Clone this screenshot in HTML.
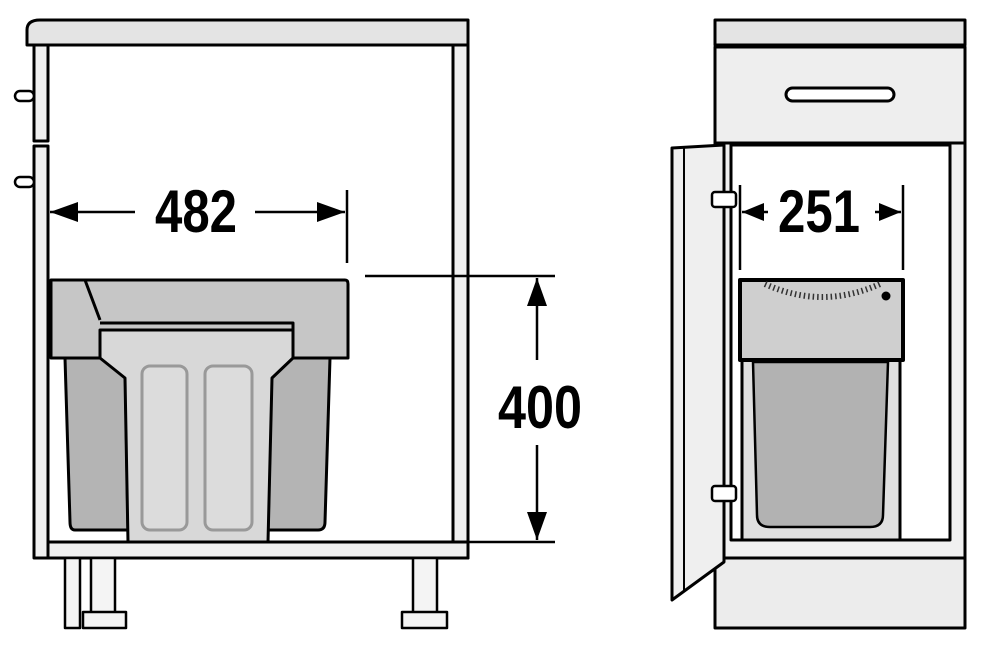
<!DOCTYPE html>
<html><head><meta charset="utf-8"><style>html,body{margin:0;padding:0;background:#fff}svg{display:block}</style></head>
<body>
<svg width="1000" height="654" viewBox="0 0 1000 654" xmlns="http://www.w3.org/2000/svg">
<defs>
<marker id="ah" viewBox="0 0 28 20" refX="28" refY="10" markerWidth="28" markerHeight="20" markerUnits="userSpaceOnUse" orient="auto"><path d="M0,0 L28,10 L0,20 z" fill="#000"/></marker>
<marker id="ah2" viewBox="0 0 22 18" refX="22" refY="9" markerWidth="22" markerHeight="18" markerUnits="userSpaceOnUse" orient="auto"><path d="M0,0 L22,9 L0,18 z" fill="#000"/></marker>
</defs>
<g stroke="#000" stroke-width="3" fill="#fff" stroke-linejoin="round">
<path d="M27,45 L27,30 Q27,20 40,20 L468,20 L468,45 Z" fill="#e4e4e4"/>
<rect x="34" y="45" width="14" height="96" fill="#f0f0f0"/>
<rect x="34" y="146" width="14" height="412" fill="#f0f0f0"/>
<rect x="15" y="91" width="19" height="10" rx="5" fill="#fff" stroke-width="2.5"/>
<rect x="15" y="177" width="19" height="10" rx="5" fill="#fff" stroke-width="2.5"/>
<rect x="453" y="45" width="15" height="513" fill="#f0f0f0"/>
<rect x="48" y="542" width="420" height="16" fill="#f0f0f0"/>
<rect x="65" y="558" width="15" height="70" fill="#f4f4f4" stroke-width="2.5"/>
<rect x="91" y="558" width="24" height="56" fill="#f4f4f4" stroke-width="2.5"/>
<rect x="83" y="612" width="43" height="16" fill="#f4f4f4" stroke-width="2.5"/>
<rect x="413" y="558" width="24" height="55" fill="#f4f4f4" stroke-width="2.5"/>
<rect x="402" y="612" width="45" height="16" fill="#f4f4f4" stroke-width="2.5"/>
<path d="M65,358 L125,358 L128,530 L75,530 Q70,530 70,522 Z" fill="#b4b4b4"/>
<path d="M272,358 L330,358 L325,522 Q325,530 318,530 L268,530 Z" fill="#b4b4b4"/>
<path d="M51,280 L345,280 Q348,280 348,284 L348,358 L51,358 Z" fill="#c6c6c6"/>
<path d="M85,280 L100,320" fill="none"/>
<path d="M100,323 L293,323 L293,358" fill="none"/>
<path d="M100,330 L293,330 L293,358 L272,378 L268,542 L128,542 L125,378 L100,358 Z" fill="#d8d8d8"/>
<rect x="142" y="366" width="45" height="164" rx="8" fill="#dcdcdc" stroke="#999" stroke-width="3"/>
<rect x="205" y="366" width="47" height="164" rx="8" fill="#dcdcdc" stroke="#999" stroke-width="3"/>
</g>
<g stroke="#000" stroke-width="2.5" fill="none">
<line x1="135" y1="212" x2="50" y2="212" marker-end="url(#ah)"/>
<line x1="255" y1="212" x2="345" y2="212" marker-end="url(#ah)"/>
<line x1="347" y1="190" x2="347" y2="263"/>
<line x1="365" y1="276" x2="555" y2="276"/>
<line x1="468" y1="542" x2="555" y2="542"/>
<line x1="537" y1="360" x2="537" y2="278" marker-end="url(#ah)"/>
<line x1="537" y1="445" x2="537" y2="540" marker-end="url(#ah)"/>
</g>
<g stroke="#000" stroke-width="3" fill="#fff" stroke-linejoin="round">
<rect x="715" y="20" width="250" height="25" fill="#e4e4e4"/>
<rect x="715" y="47" width="250" height="96" fill="#eeeeee"/>
<rect x="786" y="88" width="108" height="13" rx="6.5" fill="#fff"/>
<rect x="715" y="143" width="250" height="415" fill="#f0f0f0"/>
<rect x="731" y="145" width="219" height="395" fill="#fff"/>
<rect x="715" y="558" width="250" height="70" fill="#ececec"/>
<rect x="742" y="360" width="158" height="180" fill="#e0e0e0"/>
<path d="M753,362 L888,362 L883,515 Q883,527 870,527 L770,527 Q757,527 757,515 Z" fill="#b2b2b2" stroke-width="2.5"/>
<rect x="740" y="280" width="163" height="80" fill="#cfcfcf" stroke-width="4"/>
<path d="M765,284 Q822,310 880,284" fill="none" stroke="#333" stroke-width="6" stroke-dasharray="1.5,3"/>
<circle cx="886" cy="296" r="4.5" fill="#000" stroke="none"/>
<path d="M672,148 L724,145 L724,562 L672,600 Z" fill="#efefef"/>
<line x1="684" y1="148" x2="684" y2="592" stroke-width="2"/>
<rect x="712" y="192" width="24" height="15" rx="3" fill="#fff" stroke-width="2.5"/>
<rect x="712" y="486" width="24" height="15" rx="3" fill="#fff" stroke-width="2.5"/>
</g>
<g stroke="#000" stroke-width="2.5" fill="none">
<line x1="768" y1="212" x2="742" y2="212" marker-end="url(#ah2)"/>
<line x1="875" y1="212" x2="901" y2="212" marker-end="url(#ah2)"/>
<line x1="740" y1="185" x2="740" y2="270"/>
<line x1="903" y1="185" x2="903" y2="270"/>
</g>
<g font-family="Liberation Sans, sans-serif" font-weight="bold" font-size="60" fill="#000">
<text x="155" y="232" textLength="82" lengthAdjust="spacingAndGlyphs">482</text>
<text x="498" y="428" textLength="84" lengthAdjust="spacingAndGlyphs">400</text>
<text x="778" y="232" textLength="82" lengthAdjust="spacingAndGlyphs">251</text>
</g>
</svg>
</body></html>
